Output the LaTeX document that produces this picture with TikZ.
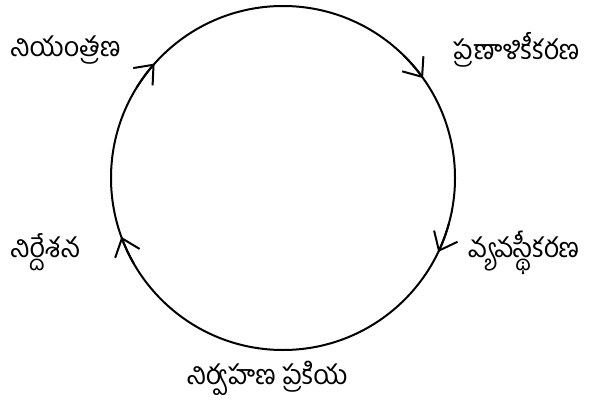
\documentclass[tikz,border=0pt]{standalone}
\usepackage{fontspec}
\newfontfamily\tel[Script=Telugu]{Hind Guntur}
\usetikzlibrary{arrows.meta}
\tikzset{
  lbl/.style={inner sep=0pt, font=\tel\fontsize{27}{30}\selectfont},
  ring/.style={draw, circle, line width=2pt, minimum size=344pt, inner sep=0pt},
  flow/.style={line width=2pt, -{Straight Barb[length=16pt, width=26pt, line width=2pt]}}
}
\begin{document}
\begin{tikzpicture}[x=1pt, y=1pt]
\useasboundingbox (0,0) rectangle (591,405);
\node[ring] (c) at (283,227) {};
\node[lbl, anchor=west] (n1) at (10,355) {నియంత్రణ};
\node[lbl, anchor=west] (n2) at (453,355) {ప్రణాళికీకరణ};
\node[lbl, anchor=west] (n3) at (468,152) {వ్యవస్థీకరణ};
\node[lbl] (n4) at (267,27) {నిర్వహణ ప్రకియ};
\node[lbl, anchor=west] (n5) at (10,153) {నిర్దేశన};
\foreach \a in {138.3, 35.5, -25.5, -160} {
  \draw[flow] ([shift={(\a+10:172)}]c.center) arc[start angle=\a+10, end angle=\a, radius=172];
}
\end{tikzpicture}
\end{document}
